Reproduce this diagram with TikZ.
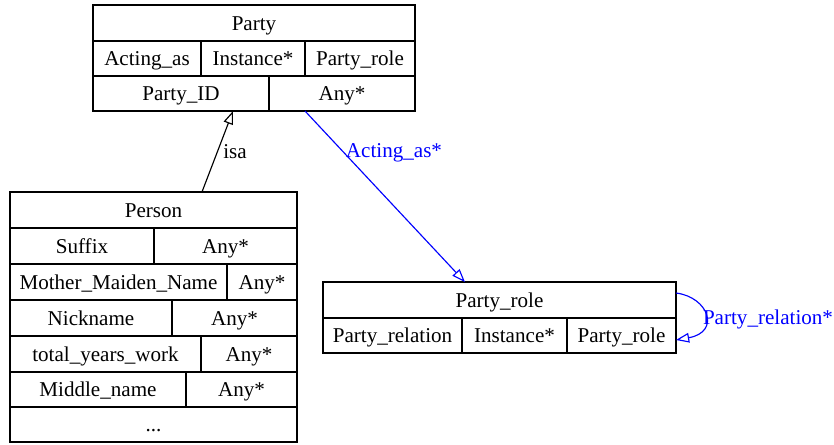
\documentclass[tikz,border=0pt]{standalone}
\usepackage{fontspec}
\setmainfont{Liberation Serif}
\usetikzlibrary{arrows.meta,calc}
\tikzset{
  cellbox/.style={draw=black, line width=0.75pt, inner sep=0pt, outer sep=0pt, text height=10pt, text depth=2pt, font=\fontsize{12}{14}\selectfont},
  isaedge/.style={draw=black, line width=0.65pt, -{Triangle[open, length=7.5pt, width=5.5pt]}},
  reledge/.style={draw=blue, line width=0.65pt, -{Triangle[open, length=7.5pt, width=5.5pt]}},
  lbl/.style={font=\fontsize{12}{14}\selectfont, inner sep=1pt},
  rellbl/.style={lbl, text=blue}
}
\newcommand\mycell[6]{%
  \node[cellbox, minimum width={(#4-#3)*0.02cm}, minimum height={(#6-#5)*0.02cm}]
    (#1) at ({(#3+#4)/2*0.02cm},{-(#5+#6)/2*0.02cm}) {#2};}
\begin{document}
\begin{tikzpicture}
\useasboundingbox (0,0) rectangle (834*0.02cm,-444*0.02cm);
% Party
\mycell{party}{Party}{93}{415}{5}{41}
\mycell{pacting}{Acting\_as}{93}{201}{41}{76}
\mycell{pinst}{Instance*}{201}{305}{41}{76}
\mycell{prole}{Party\_role}{305}{415}{41}{76}
\mycell{pid}{Party\_ID}{93}{269}{76}{111}
\mycell{pany}{Any*}{269}{415}{76}{111}
% Person
\mycell{person}{Person}{10}{297}{192}{228}
\mycell{suf}{Suffix}{10}{154}{228}{264}
\mycell{sufany}{Any*}{154}{297}{228}{264}
\mycell{mmn}{Mother\_Maiden\_Name}{10}{227}{264}{300}
\mycell{mmnany}{Any*}{227}{297}{264}{300}
\mycell{nick}{Nickname}{10}{172}{300}{336}
\mycell{nickany}{Any*}{172}{297}{300}{336}
\mycell{tyw}{total\_years\_work}{10}{201}{336}{372}
\mycell{tywany}{Any*}{201}{297}{336}{372}
\mycell{mid}{Middle\_name}{10}{186}{372}{407}
\mycell{midany}{Any*}{186}{297}{372}{407}
\mycell{more}{...}{10}{297}{407}{442}
% Party_role
\mycell{pr}{Party\_role}{323}{676}{282}{318}
\mycell{prrel}{Party\_relation}{323}{462}{318}{353}
\mycell{prinst}{Instance*}{462}{567}{318}{353}
\mycell{prrole}{Party\_role}{567}{676}{318}{353}
% edges
\draw[isaedge] ([xshift=3.84cm]person.north west) -- node[lbl, pos=0.5, right, xshift=2pt] {isa} ([xshift=-0.72cm]pid.south east);
\draw[reledge] ([xshift=0.72cm]pany.south west) -- ([xshift=2.84cm]pr.north west);
\node[rellbl] (actlbl) at (394*0.02cm,-153*0.02cm) {Acting\_as*};
\draw[reledge] ([yshift=-0.22cm]pr.north east) .. controls +(0.65cm,-0.08cm) and +(0.9cm,0.16cm) .. ([yshift=-0.09cm]prrole.east);
\node[rellbl] (rellbl) at (768*0.02cm,-319*0.02cm) {Party\_relation*};
\end{tikzpicture}
\end{document}
